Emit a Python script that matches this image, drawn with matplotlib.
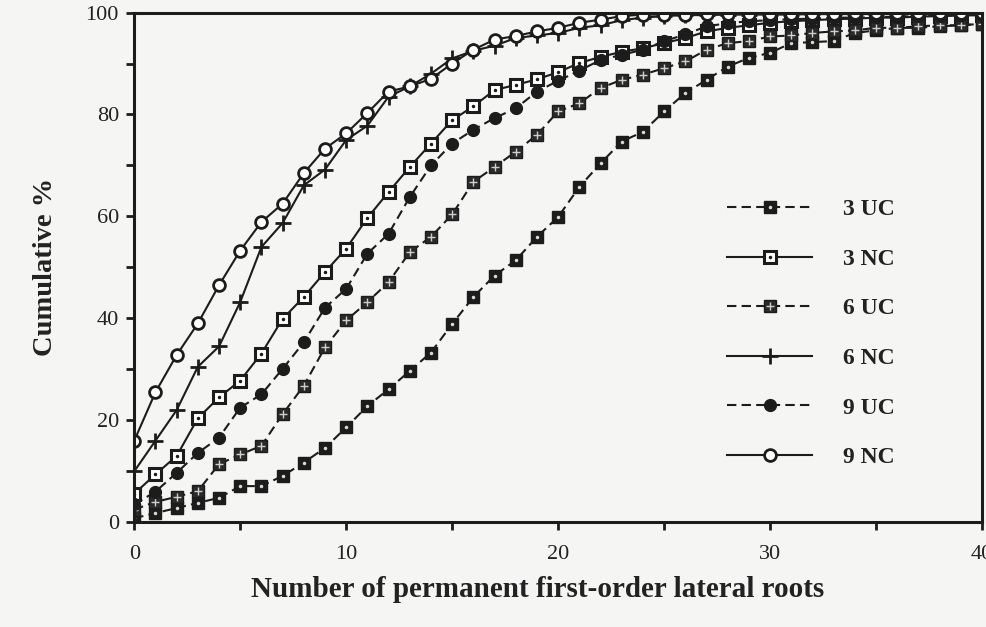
import matplotlib
matplotlib.use('Agg')
import matplotlib.pyplot as plt
from matplotlib.legend_handler import HandlerTuple
import numpy as np

# number of first-order lateral roots (x) and cumulative % per treatment
roots = np.arange(0, 41)

uc3 = [0.8, 1.8, 2.8, 3.8, 4.8, 7.1, 7.1, 9.1, 11.7, 14.6, 18.6, 22.8, 26.1, 29.7,
       33.3, 38.9, 44.2, 48.4, 51.4, 56.0, 59.9, 65.8, 70.4, 74.7, 76.6, 80.6, 84.2,
       86.8, 89.4, 91.1, 92.1, 94.0, 94.2, 94.4, 96.0, 96.5, 97.0, 97.0, 97.3, 97.5, 97.8]
nc3 = [5.6, 9.4, 13.0, 20.4, 24.5, 27.8, 33.1, 39.9, 44.2, 49.1, 53.7, 59.7, 64.8, 69.7,
       74.3, 78.9, 81.6, 84.8, 85.8, 86.9, 88.3, 90.1, 91.3, 92.3, 93.0, 94.0, 95.0,
       96.3, 97.0, 97.5, 98.0, 98.3, 98.5, 98.7, 98.8, 99.0, 99.0, 99.2, 99.3, 99.4, 99.5]
uc6 = [2.5, 4.0, 5.0, 6.1, 11.4, 13.3, 15.0, 21.2, 26.8, 34.3, 39.6, 43.2, 47.1, 53.0,
       56.0, 60.4, 66.8, 69.7, 72.7, 76.0, 80.6, 82.2, 85.2, 86.8, 87.8, 89.1, 90.4,
       92.7, 94.0, 94.4, 95.3, 95.5, 96.0, 96.3, 96.5, 97.0, 97.0, 97.3, 97.5, 97.5, 97.8]
nc6 = [10.0, 16.0, 22.0, 30.5, 34.5, 43.2, 54.0, 58.7, 66.1, 69.2, 75.0, 77.8, 83.5, 85.5,
       88.0, 91.0, 92.5, 93.5, 95.0, 95.5, 96.0, 97.0, 97.5, 98.5, 99.0, 99.3, 99.5,
       99.5, 99.6, 99.6, 99.6, 99.6, 99.7, 99.7, 99.7, 99.7, 99.8, 99.8, 99.8, 99.8, 99.8]
uc9 = [3.5, 6.0, 9.7, 13.6, 16.6, 22.5, 25.1, 30.1, 35.3, 42.1, 45.8, 52.7, 56.6, 63.8,
       70.0, 74.3, 77.0, 79.3, 81.2, 84.5, 86.6, 88.6, 90.7, 91.7, 92.7, 94.4, 95.7,
       97.3, 97.9, 98.3, 98.5, 98.7, 98.8, 99.0, 99.0, 99.1, 99.2, 99.3, 99.4, 99.5, 99.5]
nc9 = [16.0, 25.5, 32.8, 39.0, 46.5, 53.3, 58.9, 62.5, 68.5, 73.3, 76.3, 80.3, 84.5, 85.5,
       87.0, 90.0, 92.7, 94.7, 95.4, 96.3, 97.0, 98.0, 98.6, 99.3, 99.6, 99.6, 99.6,
       99.7, 99.7, 99.7, 99.8, 99.8, 99.8, 99.8, 99.9, 99.9, 99.9, 99.9, 100.0, 100.0, 100.0]

labels = ['3 UC', '3 NC', '6 UC', '6 NC', '9 UC', '9 NC']

ink = '#1c1c1c'
paper = '#f5f5f3'
dash = (0, (4.5, 2.5))

plt.rcParams['font.family'] = ['Liberation Serif', 'DejaVu Serif']

fig = plt.figure(figsize=(9.87, 6.27), dpi=100, facecolor=paper)
ax = fig.add_axes([0.136, 0.167, 0.859, 0.813], facecolor=paper)

handles = []

# 3 UC: dark square with a light dot, dashed
l = ax.plot(roots, uc3, ls=dash, lw=1.5, color=ink, marker='s', ms=8.5,
            mfc=ink, mec=ink)[0]
o = ax.plot(roots, uc3, ls='none', marker='.', ms=3, color='#d8d8d8')[0]
handles.append((l, o))

# 3 NC: open square with a dot, solid
l = ax.plot(roots, nc3, ls='-', lw=1.5, color=ink, marker='s', ms=8.5,
            mfc='white', mec=ink, mew=2.2)[0]
o = ax.plot(roots, nc3, ls='none', marker='.', ms=3, color=ink)[0]
handles.append((l, o))

# 6 UC: dark square with light cross, dashed
l = ax.plot(roots, uc6, ls=dash, lw=1.5, color=ink, marker='s', ms=8.5,
            mfc='#2a2a2a', mec=ink)[0]
o = ax.plot(roots, uc6, ls='none', marker='+', ms=6, mew=1.0, color='#cfcfcf')[0]
handles.append((l, o))

# 6 NC: plus, solid
l = ax.plot(roots, nc6, ls='-', lw=1.5, color=ink, marker='+', ms=12, mew=2.0)[0]
handles.append((l,))

# 9 UC: filled circle, dashed
l = ax.plot(roots, uc9, ls=dash, lw=1.5, color=ink, marker='o', ms=8.5,
            mfc=ink, mec=ink)[0]
handles.append((l,))

# 9 NC: open circle, solid
l = ax.plot(roots, nc9, ls='-', lw=1.5, color=ink, marker='o', ms=8.5,
            mfc='white', mec=ink, mew=2.0)[0]
handles.append((l,))

ax.set_xlim(0, 40)
ax.set_ylim(0, 100)

xt = np.arange(0, 41, 5)
ax.set_xticks(xt)
ax.set_xticklabels([str(v) if v % 10 == 0 else '' for v in xt])
yt = np.arange(0, 101, 10)
ax.set_yticks(yt)
ax.set_yticklabels([str(v) if v % 20 == 0 else '' for v in yt])
ax.tick_params(direction='out', length=6, width=2, color=ink, labelsize=16,
               labelcolor='#222222')
ax.tick_params(axis='x', pad=10)
ax.tick_params(axis='y', pad=5)

for side in ['left', 'bottom', 'top', 'right']:
    ax.spines[side].set_linewidth(2.2)
    ax.spines[side].set_color(ink)

ax.set_xlabel('Number of permanent first-order lateral roots', fontsize=21,
              fontweight='bold', color='#222222', labelpad=9, x=0.476)
ax.set_ylabel('Cumulative %', fontsize=20.5, fontweight='bold', color='#222222',
              labelpad=20)

leg = fig.legend(handles, labels, handler_map={tuple: HandlerTuple(ndivide=1)},
                 loc='upper left', bbox_to_anchor=(0.725, 0.702), frameon=False,
                 numpoints=1, handlelength=3.6, handletextpad=1.3,
                 labelspacing=1.19, borderpad=0, prop={'size': 17, 'weight': 'bold'})
for t in leg.get_texts():
    t.set_color('#222222')

plt.savefig('out.png', dpi=100, facecolor=paper)
plt.close(fig)
